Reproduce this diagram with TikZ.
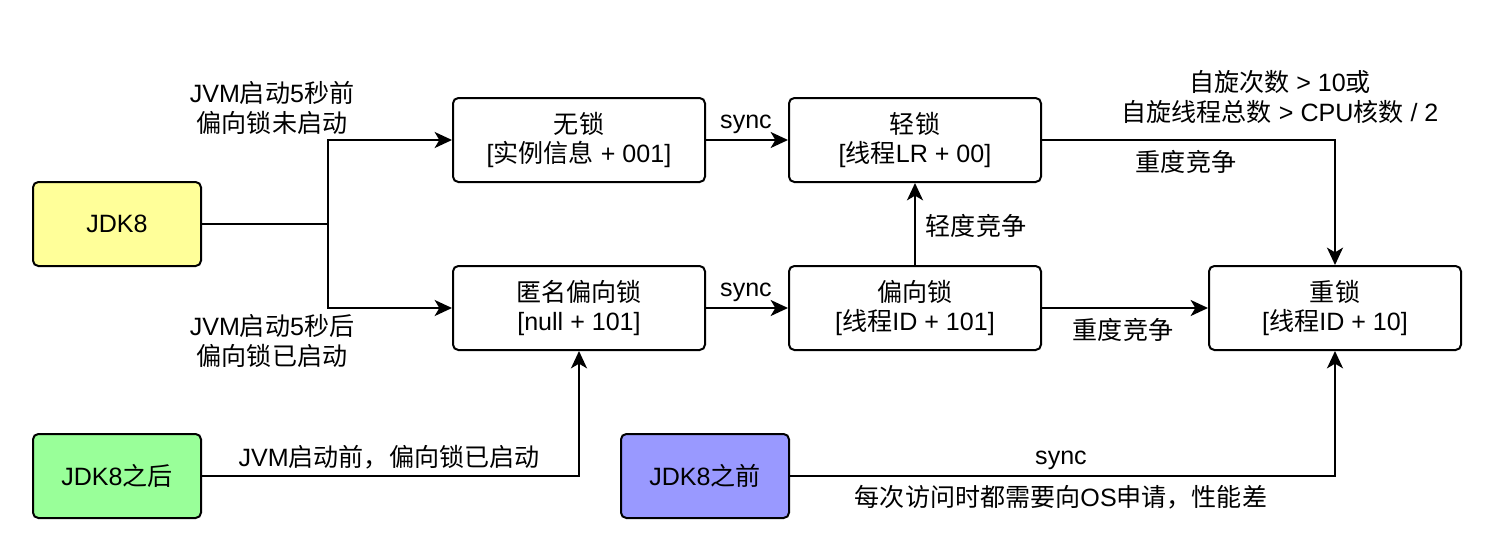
\documentclass[tikz,border=0pt]{standalone}
\usepackage{fontspec}
\setmainfont{Liberation Sans}
\newfontfamily\cjk{Noto Sans CJK SC}
% switch to the CJK font for Han characters and full-width punctuation
\XeTeXinterchartokenstate=1
\newXeTeXintercharclass\hanclass
\makeatletter
\count@="3000
\loop\ifnum\count@<"A000 \XeTeXcharclass\count@=\hanclass \advance\count@ by 1 \repeat
\count@="FF00
\loop\ifnum\count@<"FFF0 \XeTeXcharclass\count@=\hanclass \advance\count@ by 1 \repeat
\makeatother
\XeTeXinterchartoks 0 \hanclass={\cjk}
\XeTeXinterchartoks 4095 \hanclass={\cjk}
\XeTeXinterchartoks \hanclass 0={\rmfamily}
\XeTeXinterchartoks \hanclass 4095={\rmfamily}
\usepackage{tikz}
\usetikzlibrary{arrows.meta}
\definecolor{jdkyellow}{HTML}{FFFF99}
\definecolor{jdkgreen}{HTML}{99FF99}
\definecolor{jdkpurple}{HTML}{9999FF}
\tikzset{
    lockbox/.style={draw=black, line width=1.5pt, rounded corners=4pt, minimum width=189pt, minimum height=63pt, align=center, inner sep=0pt},
    jdkbox/.style={lockbox, minimum width=126pt},
    conn/.style={line width=1.6pt, -{Stealth[length=13pt, width=12pt, inset=3.5pt]}},
    link/.style={line width=1.6pt},
    lbl/.style={align=center, inner sep=0pt}
}

\begin{document}
\begin{tikzpicture}[x=0.75pt, y=-0.75pt, every node/.style={font=\fontsize{18.8}{22}\selectfont}]
    \useasboundingbox (0,0) rectangle (1486,554);
    % boxes
    \node[jdkbox, fill=jdkyellow] (jdk8) at (117,224) {JDK8};
    \node[jdkbox, fill=jdkgreen] (after) at (117,476) {JDK8之后};
    \node[jdkbox, fill=jdkpurple] (before) at (705,476) {JDK8之前};
    \node[lockbox] (nolock) at (579,140) {无锁\\{}[实例信息 + 001]};
    \node[lockbox] (anon) at (579,308) {匿名偏向锁\\{}[null + 101]};
    \node[lockbox] (light) at (915,140) {轻锁\\{}[线程LR + 00]};
    \node[lockbox] (biased) at (915,308) {偏向锁\\{}[线程ID + 101]};
    \node[lockbox] (heavy) at (1335,308) {重锁\\{}[线程ID + 10]};
    \coordinate (split) at (328,224);
    % connectors
    \draw[link] (jdk8.east) -- (split);
    \draw[conn] (split) |- (nolock.west);
    \draw[conn] (split) |- (anon.west);
    \draw[conn] (nolock) -- (light);
    \draw[conn] (anon) -- (biased);
    \draw[conn] (biased) -- (light);
    \draw[conn] (biased) -- (heavy);
    \draw[conn] (light.east) -| (heavy.north);
    \draw[conn] (after.east) -| (anon.south);
    \draw[conn] (before.east) -| (heavy.south);
    % labels
    \node[lbl] (l-early) at (272,108) {JVM启动5秒前\\偏向锁未启动};
    \node[lbl] (l-late) at (272,341) {JVM启动5秒后\\偏向锁已启动};
    \node[lbl] (l-sync1) at (746,124) {sync};
    \node[lbl] (l-sync2) at (746,292) {sync};
    \node[lbl] (l-mild) at (976,226) {轻度竞争};
    \node[lbl] (l-heavy1) at (1123,330) {重度竞争};
    \node[lbl] (l-heavy2) at (1186,162) {重度竞争};
    \node[lbl] (l-spin) at (1280,97) {自旋次数 > 10或\\自旋线程总数 > CPU核数 / 2};
    \node[lbl] (l-jvm) at (389,457) {JVM启动前，偏向锁已启动};
    \node[lbl] (l-sync3) at (1061,460) {sync};
    \node[lbl] (l-os) at (1061,497) {每次访问时都需要向OS申请，性能差};
\end{tikzpicture}
\end{document}
